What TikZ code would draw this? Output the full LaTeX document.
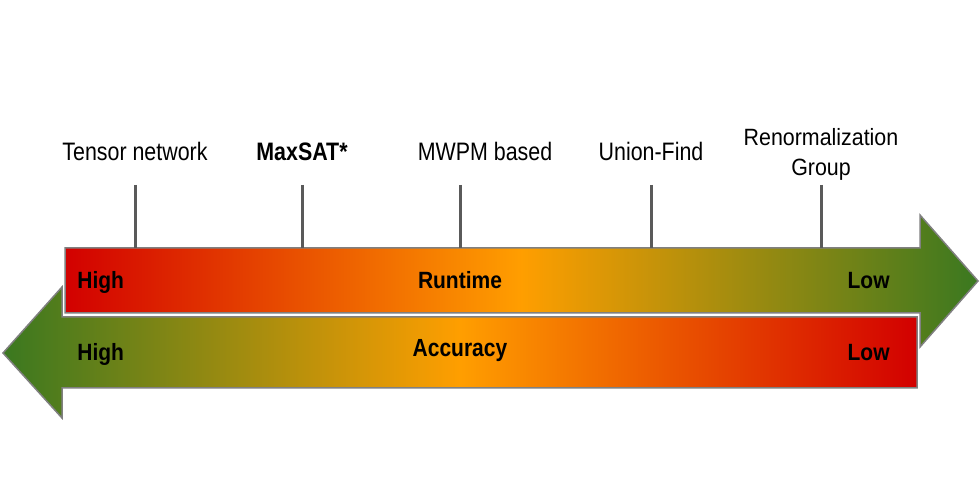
\documentclass[tikz,border=0pt]{standalone}
\usepackage{fontspec}
\setmainfont{Liberation Sans}
\definecolor{highred}{RGB}{210,0,0}
\definecolor{midorange}{RGB}{255,158,0}
\definecolor{lowgreen}{RGB}{58,120,32}
\definecolor{edgegray}{RGB}{128,128,128}
\definecolor{tickgray}{RGB}{90,90,90}

% taller glyphs, as in the reference
\newcommand{\vstretch}[2]{\scalebox{1}[#1]{#2}}

\tikzset{
  method/.style={font=\fontsize{10.7}{13.6}\selectfont, anchor=base, inner sep=0pt},
  scalelabel/.style={font=\bfseries\fontsize{10.5}{13}\selectfont, inner sep=0pt},
  tickline/.style={tickgray, line width=1.5pt},
  bararrow/.style={draw=edgegray, line width=0.75pt},
}

\begin{document}
\begin{tikzpicture}[x=0.5pt,y=-0.5pt]
    \useasboundingbox (0,0) rectangle (980,490);

    % Runtime arrow (pointing right)
    \draw[bararrow, left color=highred, right color=lowgreen, middle color=midorange]
        (65,248) -- (920,248) -- (920,215) -- (978,281) -- (920,347)
        -- (920,313) -- (65,313) -- cycle;

    % Accuracy arrow (pointing left)
    \draw[bararrow, left color=lowgreen, right color=highred, middle color=midorange]
        (917,317) -- (62,317) -- (62,287) -- (3,353) -- (62,418)
        -- (62,388) -- (917,388) -- cycle;

    % Ticks
    \foreach \name/\x in {tensor/135, maxsat/302, mwpm/460, unionfind/651, rg/821} {
        \coordinate (\name-top) at (\x,185);
        \coordinate (\name-bot) at (\x,248);
        \draw[tickline] (\name-top) -- (\name-bot);
    }

    % Decoder labels
    \node[method] (tensor) at (135,161) {\vstretch{1.18}{Tensor network}};
    \node[method, font=\bfseries\fontsize{10.7}{13.6}\selectfont] (maxsat) at (302,161) {\vstretch{1.18}{MaxSAT*}};
    \node[method] (mwpm) at (485,161) {\vstretch{1.18}{MWPM based}};
    \node[method] (unionfind) at (651,161) {\vstretch{1.18}{Union-Find}};
    \node[method] (rg) at (821,145.5)
        {\vstretch{1.1}{\begin{tabular}[t]{@{}c@{}}Renormalization\\Group\end{tabular}}};

    % Runtime labels
    \node[scalelabel, anchor=base west] (runhigh) at (77,288.5) {\vstretch{1.12}{High}};
    \node[scalelabel, anchor=base] (runtime) at (460,288.5) {\vstretch{1.12}{Runtime}};
    \node[scalelabel, anchor=base east] (runlow) at (890,288.5) {\vstretch{1.12}{Low}};

    % Accuracy labels
    \node[scalelabel, anchor=base west] (acchigh) at (77,361) {\vstretch{1.12}{High}};
    \node[scalelabel, anchor=base] (accuracy) at (460,357) {\vstretch{1.18}{Accuracy}};
    \node[scalelabel, anchor=base east] (acclow) at (890,361) {\vstretch{1.12}{Low}};
\end{tikzpicture}
\end{document}
